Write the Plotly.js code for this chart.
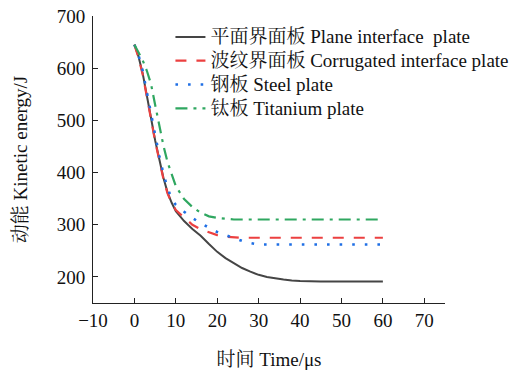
<!DOCTYPE html>
<html>
<head>
<meta charset="utf-8">
<script src="https://cdn.plot.ly/plotly-3.0.1.min.js"></script>
<style>html,body{margin:0;padding:0;background:#fff;}#chart{width:528px;height:371px;}</style>
</head>
<body>
<div id="chart"></div>
<script>
const seriesNames = ["平面界面板 Plane interface  plate", "波纹界面板 Corrugated interface plate", "钢板 Steel plate", "钛板 Titanium plate"];
const timePlane = [0, 1, 2, 3, 4, 5, 6, 7, 8, 9, 10, 12, 14, 16, 18, 20, 22, 24, 26, 28, 30, 32, 34, 36, 38, 40, 45, 50, 55, 60];
const plane = [645, 622, 590, 550, 505, 462, 425, 390, 362, 342, 326, 307, 292, 279, 263, 248, 236, 226, 217, 210, 204, 200, 197, 195, 193, 192, 191, 191, 191, 191];
const timeCorr = [0, 1, 2, 3, 4, 5, 6, 7, 8, 9, 10, 12, 14, 16, 18, 20, 22, 24, 26, 30, 40, 50, 60];
const corrugated = [645, 620, 588, 548, 503, 460, 423, 388, 360, 342, 328, 313, 300, 291, 285, 280, 277, 276, 275, 275, 275, 275, 275];
const timeSteel = [0, 1, 2, 3, 4, 5, 6, 7, 8, 9, 10, 12, 14, 16, 18, 20, 22, 24, 26, 28, 30, 40, 50, 60];
const steel = [645, 625, 595, 555, 510, 468, 432, 398, 370, 350, 338, 325, 313, 303, 294, 286, 280, 274, 269, 265, 262, 262, 262, 262];
const timeTitanium = [0, 1, 2, 3, 4, 5, 6, 7, 8, 9, 10, 12, 14, 16, 18, 20, 22, 24, 30, 40, 50, 60];
const titanium = [645, 630, 615, 595, 570, 530, 488, 452, 420, 395, 374, 349, 334, 323, 316, 313, 311, 310, 310, 310, 310, 310];
const xTicks = [-10, 0, 10, 20, 30, 40, 50, 60, 70];
const yTicks = [200, 300, 400, 500, 600, 700];

const fontFam = "Liberation Serif, 'Times New Roman', 'Noto Serif CJK SC', 'Noto Sans CJK SC', serif";
const big = s => '<span style="font-size:19px">' + s + '</span>';
const traces = [
  {x: timePlane, y: plane, name: big(seriesNames[0]), mode: "lines", line: {color: "#454545", width: 2}},
  {x: timeCorr, y: corrugated, name: big(seriesNames[1]), mode: "lines", line: {color: "#ec4040", width: 2.2, dash: "11px,10px"}},
  {x: timeSteel, y: steel, name: big(seriesNames[2]), mode: "lines", line: {color: "#1f6fe5", width: 2.6, dash: "2.6px,10px"}},
  {x: timeTitanium, y: titanium, name: big(seriesNames[3]), mode: "lines", line: {color: "#2fa760", width: 2.2, dash: "12px,6px,3px,6px"}}
];
const layout = {
  width: 528, height: 371,
  margin: {l: 93, r: 83, t: 16, b: 68},
  paper_bgcolor: "#fff", plot_bgcolor: "#fff",
  font: {family: fontFam, size: 19, color: "#111"},
  showlegend: true,
  legend: {x: 0.22, y: 0.986, xanchor: "left", yanchor: "top", bgcolor: "rgba(0,0,0,0)", borderwidth: 0, font: {family: fontFam, size: 16}, tracegroupgap: 0},
  xaxis: {
    range: [-10, 75], tickvals: xTicks, ticks: "inside", ticklen: 5, tickcolor: "#222",
    showline: true, linecolor: "#222", linewidth: 1, showgrid: false, zeroline: false,
    tickfont: {family: fontFam, size: 19},
    title: {text: "时间 Time/μs", font: {family: fontFam, size: 19}, standoff: 22}
  },
  yaxis: {
    range: [150, 700], tickvals: yTicks, ticks: "inside", ticklen: 5, tickcolor: "#222",
    showline: true, linecolor: "#222", linewidth: 1, showgrid: false, zeroline: false,
    tickfont: {family: fontFam, size: 19}, ticklabelstandoff: 3,
    title: {text: "动能 Kinetic energy/J", font: {family: fontFam, size: 19}, standoff: 24}
  }
};
Plotly.newPlot("chart", traces, layout, {staticPlot: true, displayModeBar: false});
</script>
</body>
</html>
